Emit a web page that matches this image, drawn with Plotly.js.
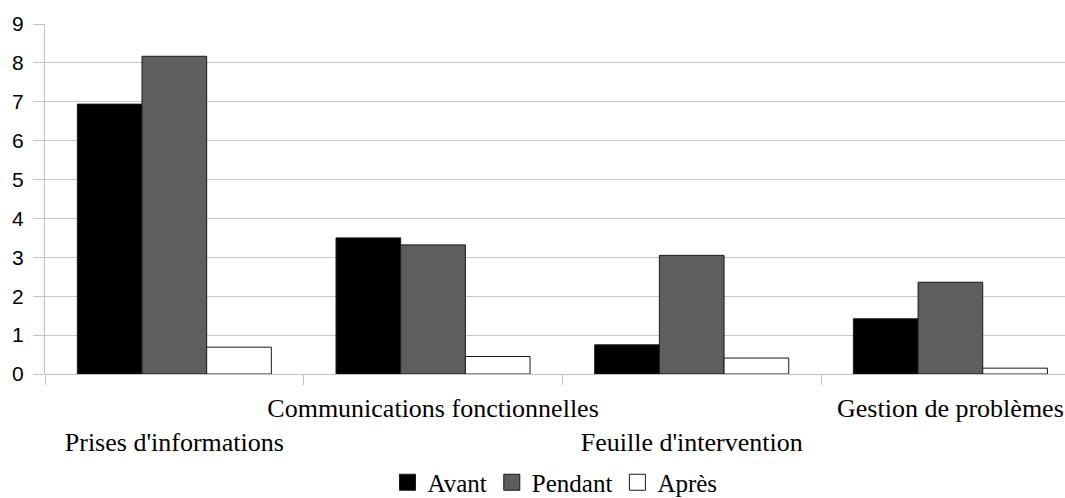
<!DOCTYPE html>
<html>
<head>
<meta charset="utf-8">
<script src="https://cdn.plot.ly/plotly-3.0.1.min.js"></script>
<style>html,body{margin:0;padding:0;background:#fff;}#chart{width:1065px;height:498px;}</style>
</head>
<body>
<div id="chart"></div>
<script>
var categories = ["Prises d'informations", "Communications fonctionnelles", "Feuille d'intervention", "Gestion de problèmes"];
var seriesNames = ["Avant", "Pendant", "Après"];
var avant = [6.94, 3.50, 0.75, 1.42];
var pendant = [8.17, 3.32, 3.05, 2.36];
var apres = [0.69, 0.45, 0.41, 0.15];
var yTicks = [0, 1, 2, 3, 4, 5, 6, 7, 8, 9];

// staggered category labels: even-index on the second line
var tickLabels = categories.map(function (c, i) { return i % 2 === 0 ? "<br>" + c : c; });

var colors = ["#000000", "#5e5e5e", "#ffffff"];
var values = [avant, pendant, apres];

var serif = "Liberation Serif";
var sans = "Liberation Sans";

var traces = values.map(function (v, i) {
  return {
    type: "bar",
    name: seriesNames[i],
    legendgroup: seriesNames[i],
    showlegend: false,
    x: categories,
    y: v,
    marker: { color: colors[i], line: { color: "#1a1a1a", width: 1 } },
    hoverinfo: "x+y+name"
  };
});

// legend-only entries (larger square swatches, no marks drawn)
seriesNames.forEach(function (n, i) {
  traces.push({
    type: "scatter",
    mode: "markers",
    name: n,
    legendgroup: n,
    x: [null],
    y: [null],
    marker: { symbol: "square", size: 16, color: colors[i], line: { color: "#1a1a1a", width: 1 } },
    hoverinfo: "skip"
  });
});

var layout = {
  width: 1065,
  height: 498,
  margin: { l: 45, r: 0, t: 24, b: 124, autoexpand: false },
  paper_bgcolor: "#ffffff",
  plot_bgcolor: "#ffffff",
  barmode: "group",
  bargap: 0.25,
  bargroupgap: 0,
  showlegend: true,
  font: { family: serif, color: "#000000" },
  xaxis: {
    type: "category",
    categoryorder: "array",
    categoryarray: categories,
    range: [-0.5, 3.443],
    tickmode: "array",
    tickvals: categories,
    ticktext: tickLabels,
    tickangle: 0,
    tickson: "boundaries",
    ticks: "outside",
    ticklen: 10,
    tickcolor: "#c0c0c0",
    tickwidth: 1,
    ticklabelstandoff: 16,
    showgrid: false,
    showline: false,
    zeroline: false,
    tickfont: { family: serif, size: 26, color: "#000000" },
    automargin: false
  },
  yaxis: {
    range: [0, 9],
    tickmode: "array",
    tickvals: yTicks,
    ticktext: yTicks.map(String),
    ticks: "outside",
    ticklen: 11,
    tickcolor: "#c0c0c0",
    ticklabelstandoff: 5,
    showgrid: true,
    gridcolor: "#c8c8c8",
    gridwidth: 1,
    showline: true,
    linecolor: "#c0c0c0",
    linewidth: 1,
    zeroline: true,
    zerolinecolor: "#c0c0c0",
    zerolinewidth: 1,
    tickfont: { family: sans, size: 21, color: "#000000" },
    automargin: false
  },
  legend: {
    orientation: "h",
    x: 0.5,
    xanchor: "center",
    y: -0.31,
    yanchor: "middle",
    font: { family: serif, size: 25, color: "#000000" },
    itemwidth: 30,
    itemsizing: "trace",
    traceorder: "normal"
  },
  hovermode: "closest"
};

Plotly.newPlot("chart", traces, layout, { displayModeBar: false, staticPlot: false });
</script>
</body>
</html>
